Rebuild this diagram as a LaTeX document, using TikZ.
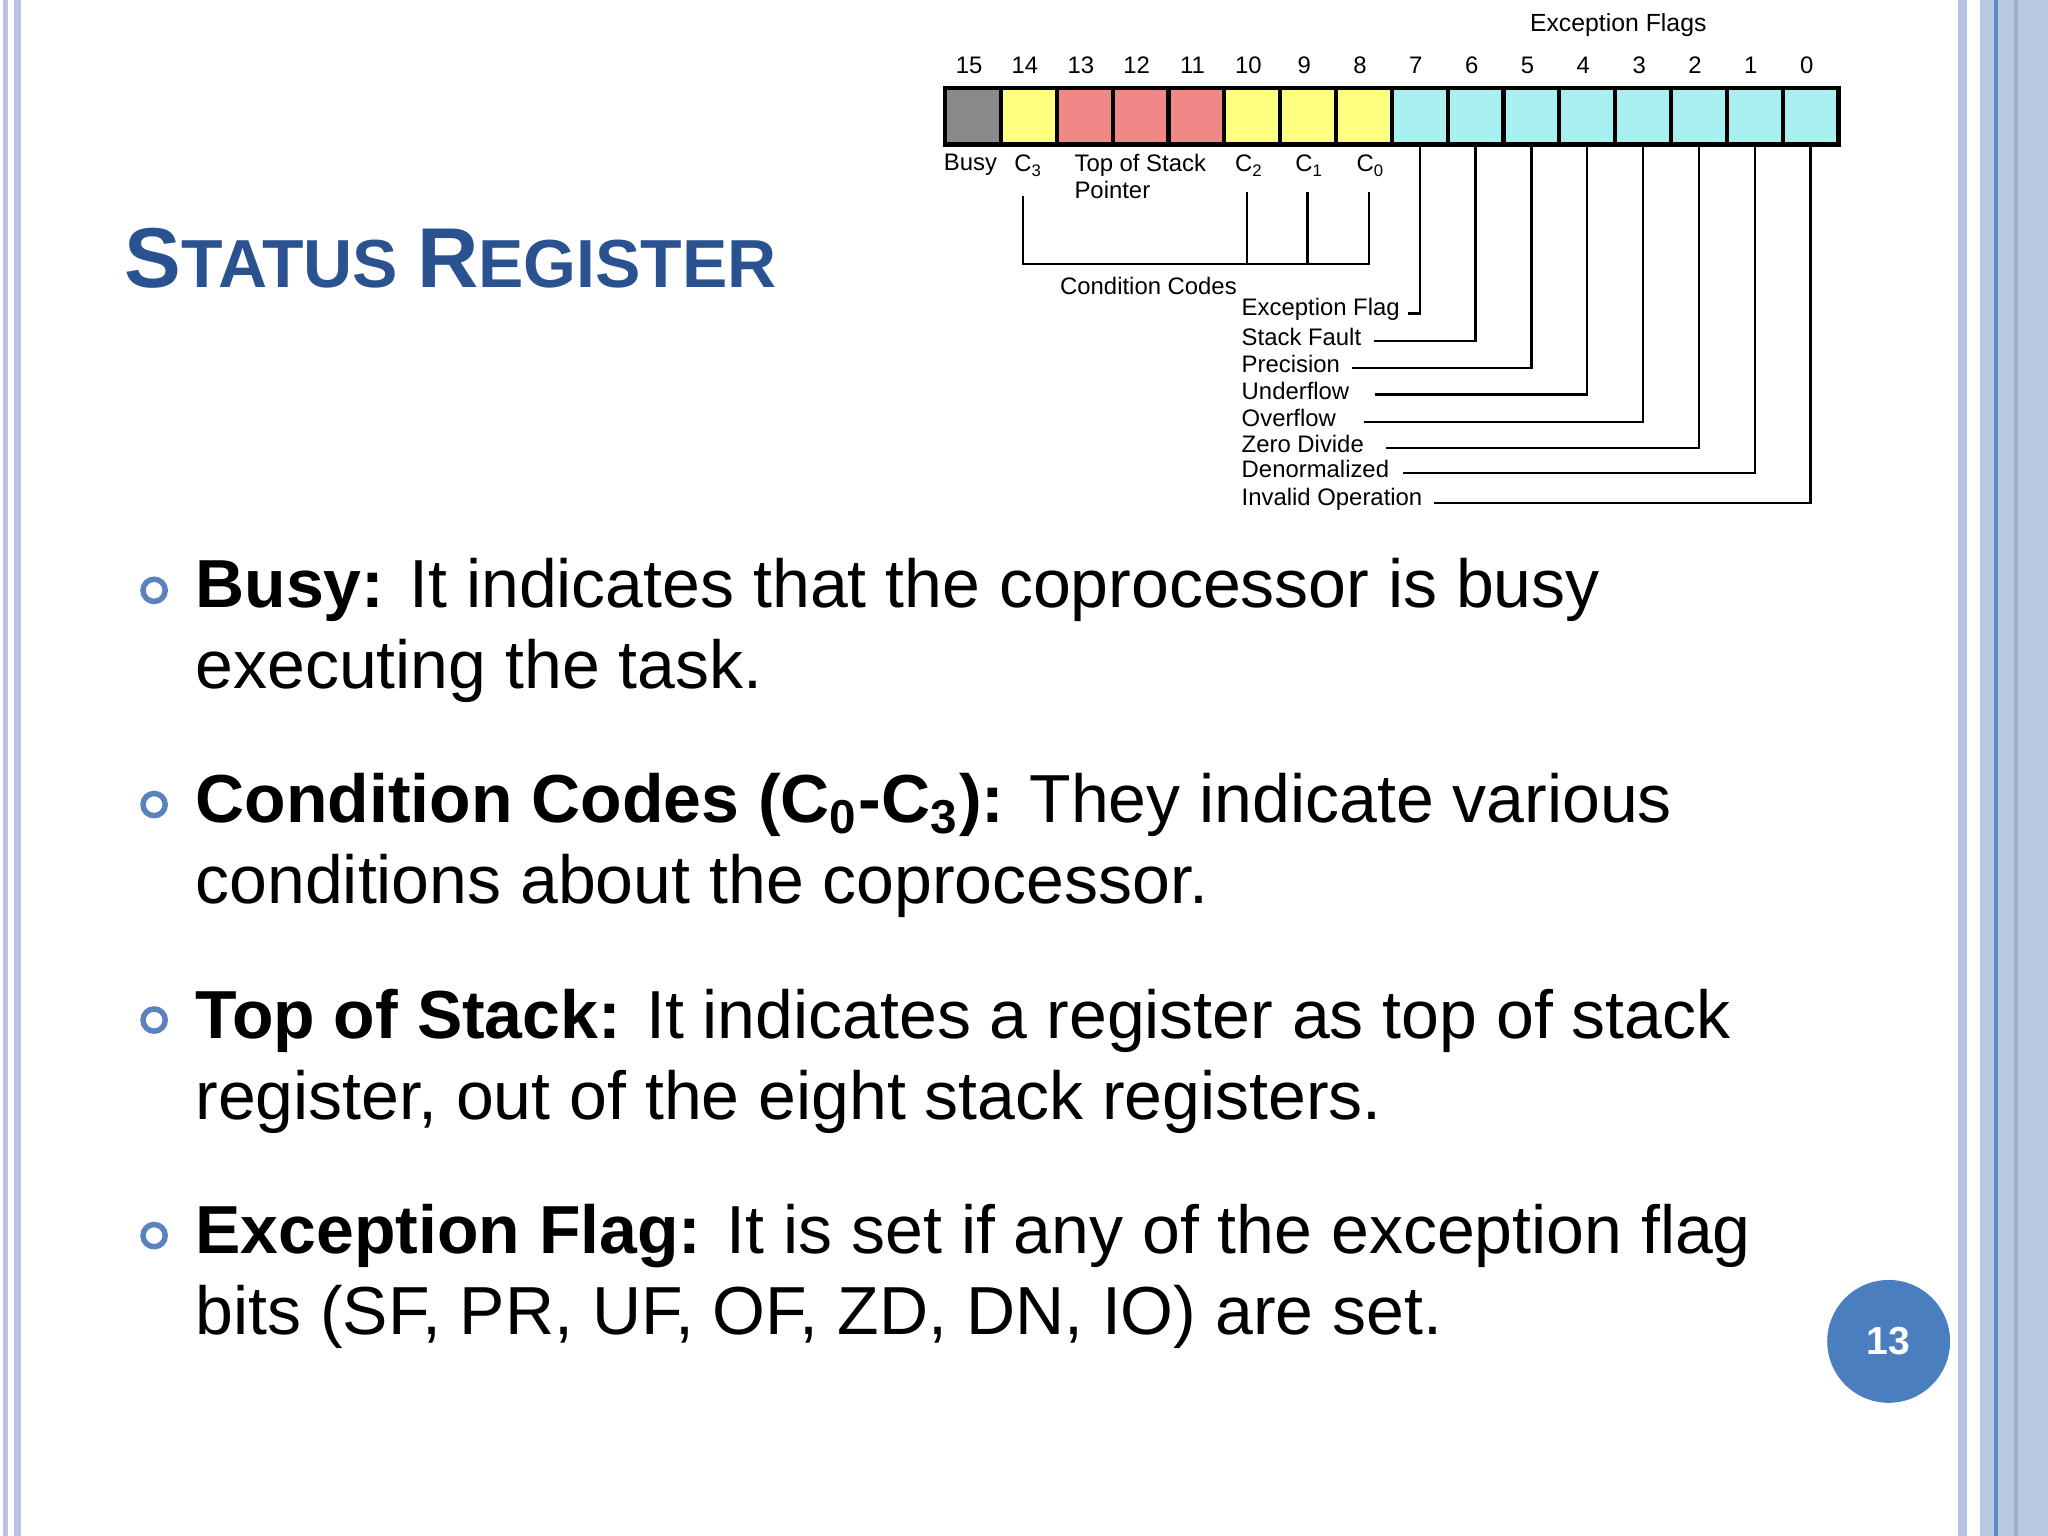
\documentclass[tikz,border=0pt]{standalone}
\usepackage{fontspec}
\setmainfont{Liberation Sans}
\definecolor{ttl}{HTML}{2A5290}
\definecolor{bul}{HTML}{5B82BE}
\definecolor{pg}{HTML}{4A7EBF}
\definecolor{strip}{HTML}{B9C7DF}
\definecolor{strip2}{HTML}{B8C3E3}
\definecolor{cy}{HTML}{A8F0F0}
\definecolor{yl}{HTML}{FFFF80}
\definecolor{rd}{HTML}{F08888}
\definecolor{gy}{HTML}{8A8A8A}
\begin{document}
\begin{tikzpicture}[x=0.01cm,y=-0.01cm,
  cell/.style={draw=black,line width=0.9pt,minimum width=0.4275cm,minimum height=0.43cm,inner sep=0,anchor=north west},
  bitnum/.style={font=\fontsize{5.2}{6}\selectfont,inner sep=0},
  rlab/.style={font=\fontsize{5.2}{6}\selectfont,inner sep=0,anchor=west,align=left},
  ln/.style={line width=0.5pt},
  body/.style={font=\fontsize{14.8}{17.6}\selectfont,anchor=base west,inner sep=0},
  bullet/.style={circle,draw=bul,line width=1.2pt,minimum size=0.17cm,inner sep=0}]
\useasboundingbox (0,0) rectangle (1568,1176);
% side strips
\fill[strip2] (2,0) rectangle (6,1176);
\fill[strip2] (11,0) rectangle (16,1176);
\fill[strip2] (1499,0) rectangle (1506,1176);
\fill[strip] (1516,0) rectangle (1568,1176);
\fill[pg!90] (1527,0) rectangle (1530,1176);
\fill[strip2!90!black] (1542,0) rectangle (1545,1176);
% title
\node[anchor=base west,inner sep=0,text=ttl,font=\bfseries] (title) at (95,220)
 {\fontsize{18.5}{20}\selectfont S\fontsize{14.8}{16}\selectfont TATUS \fontsize{18.5}{20}\selectfont R\fontsize{14.8}{16}\selectfont EGISTER};
% register cells
\foreach \b/\c [count=\i from 0] in {15/gy,14/yl,13/rd,12/rd,11/rd,10/yl,9/yl,8/yl,7/cy,6/cy,5/cy,4/cy,3/cy,2/cy,1/cy,0/cy}{
  \node[cell,fill=\c] (c\b) at (722+42.75*\i,66) {};
  \node[bitnum] (n\b) at (742+42.75*\i,50) {\b};
}
\node[bitnum] (ef) at (1239,19) {\fontsize{5.4}{6}\selectfont Exception Flags};
% labels under register
\node[rlab] (busy) at (722,126) {Busy};
\node[rlab] (lc3) at (776,127) {C\textsubscript{3}};
\node[rlab,anchor=north west] (tos) at (822,117) {Top of Stack\\Pointer};
\node[rlab] (lc2) at (945,127) {C\textsubscript{2}};
\node[rlab] (lc1) at (991,127) {C\textsubscript{1}};
\node[rlab] (lc0) at (1038,127) {C\textsubscript{0}};
\coordinate (a3) at (783,150); \coordinate (a2) at (955,147);
\coordinate (a1) at (1001,147); \coordinate (a0) at (1048,147);
\draw[ln] (a3) -- (783,202) -- (1048,202) -- (a0);
\draw[ln] (a2) -- (955,202);
\draw[ln] (a1) -- (1001,202);
\node[rlab] (cc) at (811,219) {Condition Codes};
% exception flag lines
\foreach \b/\y/\t/\x in {7/240/Exception Flag/1078,6/261/Stack Fault/1052,5/282/Precision/1035,4/302/Underflow/1053,3/323/Overflow/1044,2/343/Zero Divide/1061,1/362/Denormalized/1074,0/385/Invalid Operation/1098}{
  \node[rlab] (e\b) at (950,\y-3) {\t};
  \coordinate (h\b) at (\x,\y);
  \draw[ln] (c\b.south) -- (c\b.south |- h\b) -- (h\b);
}
% bullets and body
\foreach \k/\y in {1/452,2/616,3/781,4/946}{ \node[bullet] (b\k) at (118,\y) {}; }
\node[body] (t1) at (149,465) {\textbf{Busy:} It indicates that the coprocessor is busy};
\node[body] (t1b) at (149,527) {executing the task.};
\node[body] (t2) at (149,630) {\textbf{Condition Codes (C\textsubscript{0}-C\textsubscript{3}):} They indicate various};
\node[body] (t2b) at (149,692) {conditions about the coprocessor.};
\node[body] (t3) at (149,795) {\textbf{Top of Stack:} It indicates a register as top of stack};
\node[body] (t3b) at (149,857) {register, out of the eight stack registers.};
\node[body] (t4) at (149,960) {\textbf{Exception Flag:} It is set if any of the exception flag};
\node[body] (t4b) at (149,1022) {bits (SF, PR, UF, OF, ZD, DN, IO) are set.};
% page number
\node[circle,fill=pg,minimum size=0.94cm,text=white,font=\bfseries\fontsize{8.5}{10}\selectfont] (pn) at (1446,1027) {13};
\end{tikzpicture}
\end{document}
